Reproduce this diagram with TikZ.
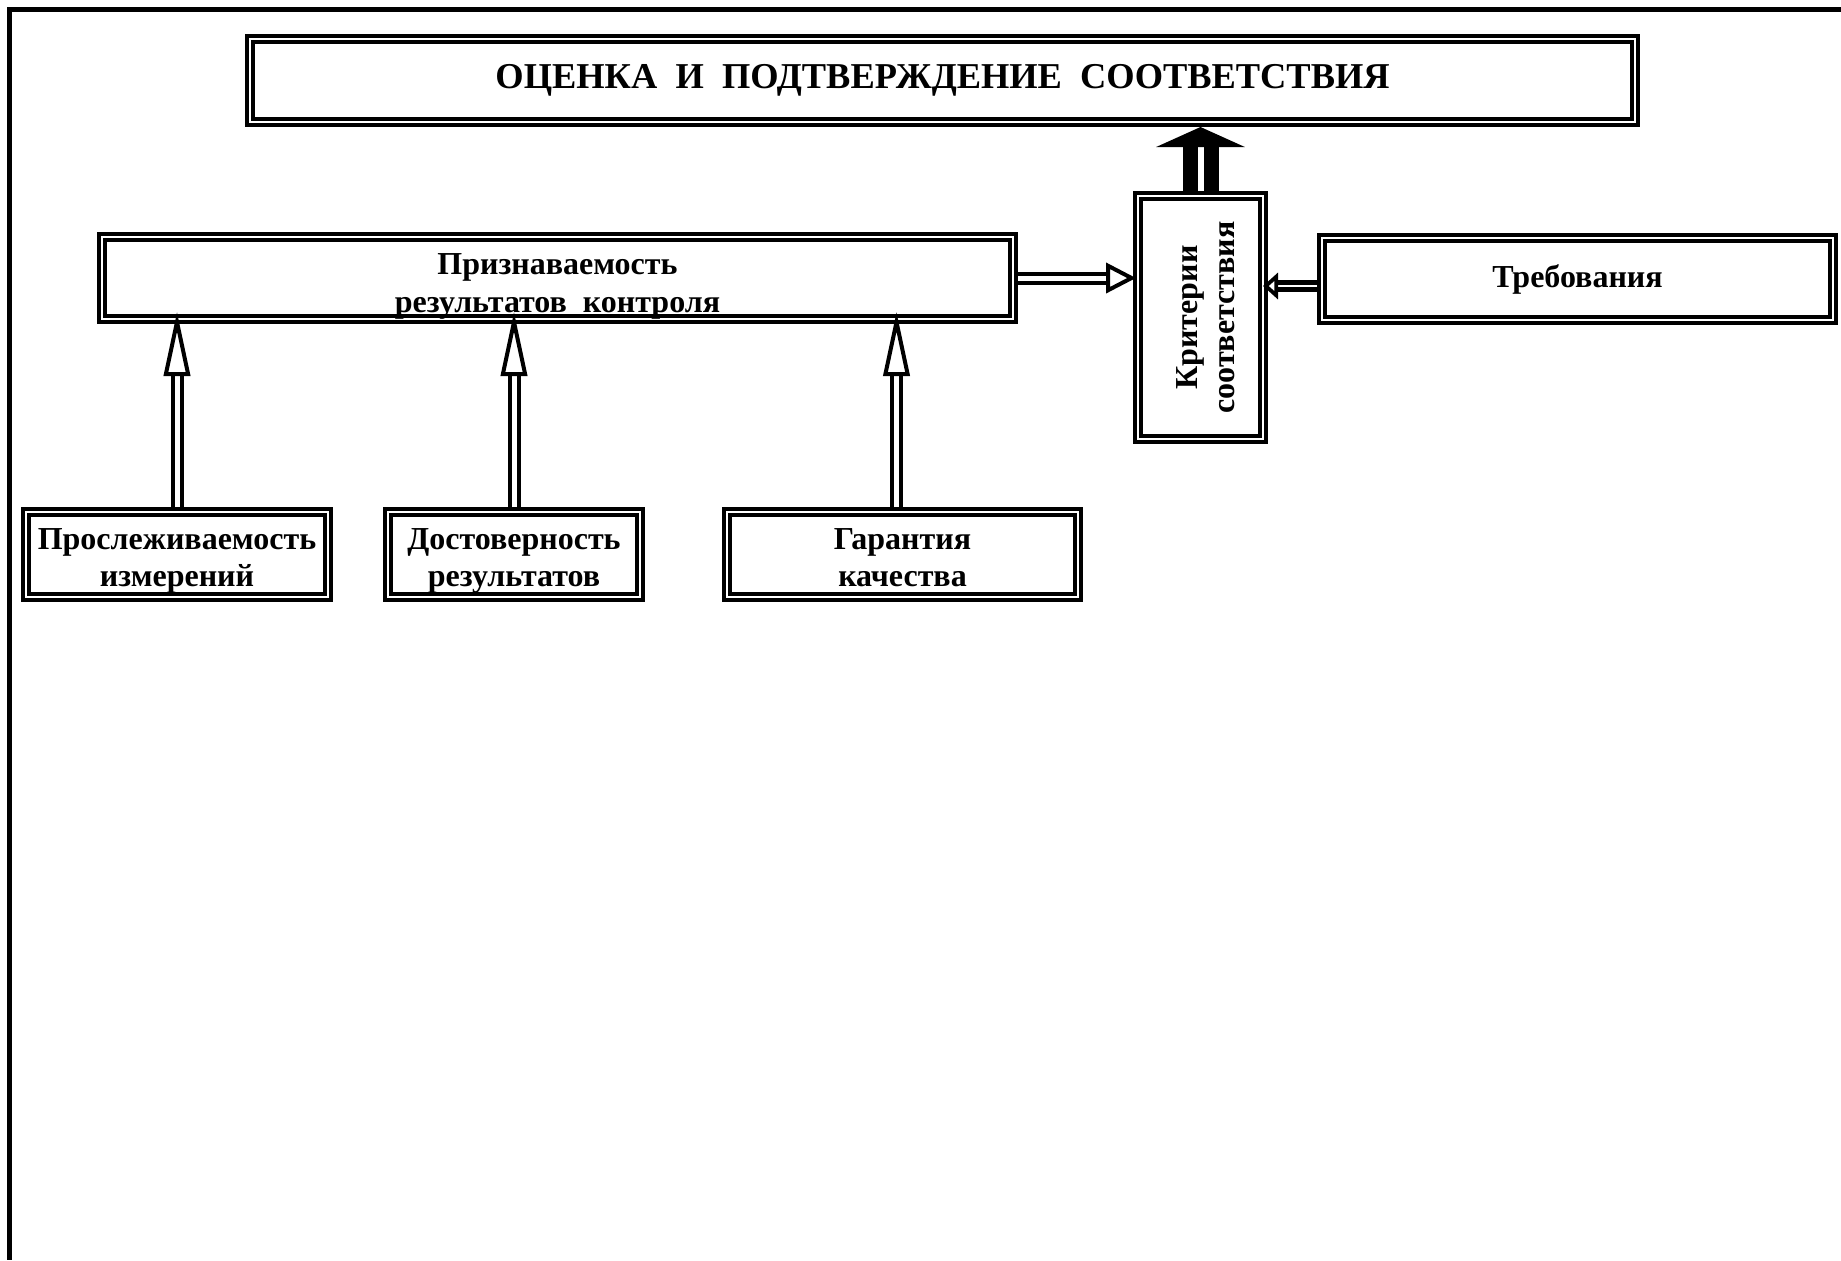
\documentclass[tikz,border=0pt]{standalone}
\usepackage{fontspec}
\setmainfont{Liberation Serif}
\usepackage{graphicx}
\usetikzlibrary{arrows.meta}
\tikzset{
  dvoin/.style={line width=2pt, double=white, double distance=2.5pt},
}
% две строки, чуть ниже центра
\newcommand{\dvastr}[3][4pt]{\raisebox{-#1}[\height][\depth]{\begin{tabular}{@{}c@{}}#2\\#3\end{tabular}}}

\begin{document}
\begin{tikzpicture}[
    x=0.5pt, y=-0.5pt,
    blok/.style={draw, line width=1.8pt, double=white, double distance=1.3pt,
        inner sep=0pt, outer sep=2.45pt, align=center,
        font=\bfseries\fontsize{16}{18.8}\selectfont},
    strelka/.style={dvoin, shorten >=-6pt,
        -{Triangle[open, length=32pt, width=13pt, line width'=2pt]}},
    strelkaH/.style={dvoin, shorten >=-1.5pt,
        -{Triangle[open, length=15pt, width=15pt, line width'=2pt]}},
    strelkaL/.style={line width=2.5pt, double=white, double distance=1.1pt, shorten >=-2.5pt,
        -{Triangle[open, length=7.5pt, width=13pt, line width'=2.4pt]}},
    tolstaya/.style={line width=7.5pt, double=white, double distance=3pt,
        -{Triangle[length=10pt, width=44pt]}}
]
    \useasboundingbox (0,0) rectangle (1841,1260);
    % рамка
    \draw[line width=2.2pt] (1841,9.5) -- (9.5,9.5) -- (9.5,1260);

    \node[blok, minimum width=692.6pt, minimum height=41.6pt,
        font=\bfseries\fontsize{18.2}{20}\selectfont] (ocenka) at (942.5,80.5)
        {ОЦЕНКА\ \ И\ \ ПОДТВЕРЖДЕНИЕ\ \ СООТВЕТСТВИЯ};

    \node[blok, minimum width=455.6pt, minimum height=41.1pt] (priz) at (557.5,278)
        {\dvastr{Признаваемость}{результатов\ \ контроля}};
    \node[blok, minimum width=62.6pt, minimum height=121.6pt] (krit) at (1200.5,317.5)
        {\rotatebox{90}{\dvastr{Критерии}{соответствия}}};
    \node[blok, minimum width=255.6pt, minimum height=41.1pt] (treb) at (1577.5,279)
        {Требования};

    % нижний ряд
    \node[blok, minimum width=151.1pt, minimum height=42.6pt] (prosl) at (177,554.5)
        {\dvastr[3pt]{Прослеживаемость}{измерений}};
    \node[blok, minimum width=126.1pt, minimum height=42.6pt] (dost) at (514,554.5)
        {\dvastr[3pt]{Достоверность}{результатов}};
    \node[blok, minimum width=175.6pt, minimum height=42.6pt] (garant) at (902.5,554.5)
        {\dvastr[3pt]{Гарантия}{качества}};

    \draw[strelka] (prosl.north) -- (prosl.north |- priz.south);
    \draw[strelka] (dost.north) -- (dost.north |- priz.south);
    \draw[strelka] ([xshift=-3pt]garant.north) -- ([xshift=-3pt]garant.north |- priz.south);

    \draw[strelkaH] (priz.east) -- (krit.west |- priz.east);
    \draw[strelkaL] ([yshift=-3.5pt]treb.west) -- ([yshift=-3.5pt]treb.west -| krit.east);
    \draw[tolstaya] (krit.north) -- (krit.north |- ocenka.south);
\end{tikzpicture}
\end{document}
